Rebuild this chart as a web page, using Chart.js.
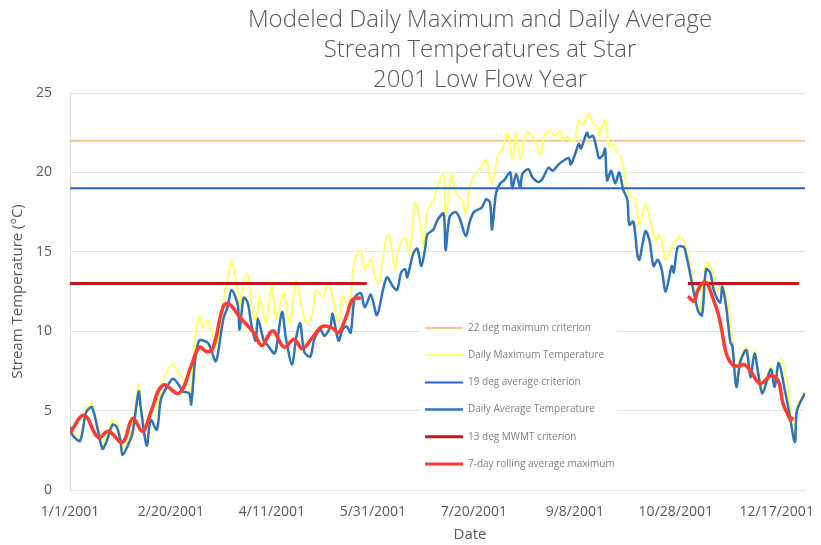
<!DOCTYPE html>
<html>
<head>
<meta charset="utf-8">
<script src="https://cdn.jsdelivr.net/npm/chart.js@4.4.0/dist/chart.umd.min.js"></script>
<style>
  html, body { margin: 0; padding: 0; background: #fff; }
</style>
</head>
<body>
<canvas id="grafico" width="821" height="545"></canvas>
<script>
// dias contados a partir de 1/1/2001
let diasEixo = [0, 50, 100, 150, 200, 250, 300, 350];
let rotulosEixo = ["1/1/2001", "2/20/2001", "4/11/2001", "5/31/2001", "7/20/2001", "9/8/2001", "10/28/2001", "12/17/2001"];

let titulo = ["Modeled Daily Maximum and Daily Average", "Stream Temperatures at Star", "2001 Low Flow Year"];

// criterios (linhas horizontais)
let diasCriterio = [0, 364];
let crit22 = [22, 22];
let crit19 = [19, 19];
let dias13 = [0, 147, 226, 306, 361];
let crit13 = [13, 13, null, 13, 13];

// temperatura media diaria
let diasMedia = [0,1,5,8,11,16,18,21,23,25,26,29,31,34,35,38,40,43,45,48,51,54,56,59,60,62,64,68,70,72,
  73,76,78,80,83,84,86,88,90,92,93,96,98,101,102,105,107,110,112,114,116,119,121,124,126,129,130,133,135,137,
  139,141,144,146,149,152,155,157,160,162,164,166,167,170,172,174,176,177,180,182,185,186,188,191,193,196,198,200,204,206,
  208,209,211,213,215,218,219,221,223,224,227,229,232,234,237,239,242,244,247,248,250,252,253,256,257,259,261,262,264,265,
  266,268,270,272,274,276,277,279,281,282,285,287,289,291,293,295,298,299,301,304,305,307,309,311,313,315,317,319,322,323,
  325,327,328,330,332,335,337,339,341,343,347,349,351,354,356,359,360,364];
let tempMedia = [4.0,3.5,3.1,4.9,5.2,2.6,3.0,4.1,4.0,3.1,2.2,2.9,3.6,6.2,5.2,2.8,4.4,3.8,5.7,6.5,7.0,6.6,6.2,6.1,5.4,8.2,9.4,9.3,8.8,8.1,
  8.4,10.8,11.5,12.6,11.7,10.1,12.1,11.8,10.3,9.4,10.8,9.4,9.1,8.6,8.8,11.2,9.5,7.9,9.6,10.5,8.7,8.4,9.5,10.1,9.7,10.3,11.1,9.4,10.1,10.3,
  9.9,12.1,12.4,11.5,12.3,11.0,12.6,13.4,12.8,12.6,13.7,13.9,13.4,14.9,15.2,14.1,15.3,16.1,16.4,17.0,17.4,15.1,17.2,17.5,17.1,16.0,16.9,17.5,17.8,18.3,
  18.1,16.4,18.7,19.3,19.5,20.0,19.0,19.9,19.0,19.9,20.2,19.7,19.4,19.6,20.3,20.1,20.5,20.7,20.9,20.5,21.1,21.8,21.5,22.5,22.2,22.3,21.4,20.9,21.1,21.5,
  19.5,20.1,19.3,20.0,18.9,18.3,16.7,16.9,14.8,14.5,16.3,15.7,14.1,14.5,13.9,12.5,14.1,13.7,15.3,15.3,14.9,13.7,12.4,11.3,11.0,13.9,13.7,12.5,11.8,12.8,
  11.5,9.3,9.1,6.5,8.1,8.8,7.1,8.6,7.2,6.1,7.6,6.5,8.0,6.3,5.0,3.0,5.0,6.1];

// temperatura maxima diaria
let diasMax = [0,1,5,8,11,16,18,21,23,25,26,29,31,34,35,38,40,43,45,48,51,54,56,59,60,62,64,66,68,70,
  72,73,76,78,80,83,84,86,88,90,92,94,97,100,102,105,106,109,112,115,117,120,122,125,128,130,133,135,138,141,
  144,146,149,151,153,156,158,161,163,166,168,171,173,175,177,180,182,185,186,189,191,194,196,198,200,204,206,209,212,214,
  217,219,221,223,226,229,231,233,235,238,240,243,244,246,248,250,252,254,256,257,259,261,262,265,267,269,271,273,275,277,
  280,282,285,287,290,292,295,298,302,304,307,309,312,315,318,320,323,326,328,330,332,335,337,339,341,343,347,349,352,355,
  356,359,360,364];
let tempMax = [4.1,3.7,3.3,5.1,5.4,2.9,3.3,4.4,4.3,3.4,2.5,3.2,4.0,6.7,5.6,3.1,4.8,5.0,6.4,7.5,7.9,7.3,7.0,6.6,6.0,9.5,10.9,10.2,10.7,10.1,
  9.0,9.3,12.0,13.2,14.4,12.6,11.5,13.2,13.6,11.5,10.7,12.2,10.5,13.0,10.8,12.2,12.4,10.5,13.2,11.4,10.5,11.1,12.6,12.2,13.0,12.2,10.5,12.2,11.5,14.5,
  15.1,13.9,14.5,13.4,13.0,15.5,16.1,13.9,15.3,15.9,14.9,18.1,17.2,15.3,17.6,18.3,19.1,19.9,17.2,19.9,18.7,18.3,17.4,19.1,19.8,20.4,20.8,19.3,21.1,21.5,
  22.5,20.8,22.5,20.8,22.5,22.3,21.8,21.1,22.3,22.6,22.3,22.6,22.0,22.3,22.0,22.0,23.3,23.0,23.6,23.7,23.1,22.9,22.3,23.3,21.6,21.8,21.2,21.0,19.6,18.5,
  18.3,16.7,18.0,17.2,15.7,16.1,14.5,15.3,16.0,15.7,14.3,12.6,11.3,14.3,13.9,12.5,12.9,11.6,9.4,6.7,8.3,9.0,7.3,8.8,7.4,6.3,7.8,6.8,8.3,6.9,
  5.8,3.1,5.2,6.2];

// media movel de 7 dias da maxima (duas partes)
let diasMovel = [0,7,14,19,26,31,36,40,46,54,60,64,68,71,76,79,84,91,95,99,101,106,111,115,120,125,130,133,137,140,144,
  225,306,309,311,314,316,318,321,323,325,328,331,334,337,340,342,346,348,351,353,356,357,358];
let tempMovel = [3.6,4.7,3.3,3.7,3.0,4.5,3.7,4.9,6.6,6.1,7.8,9.0,8.7,9.0,11.6,11.7,10.9,9.9,9.1,9.9,10.0,9.0,9.5,8.9,9.6,10.3,10.2,9.9,11.0,12.0,12.1,
  null,12.2,11.9,12.6,13.1,12.9,12.2,11.1,9.9,8.6,7.9,7.8,7.9,7.5,6.9,6.7,7.1,7.2,6.8,5.5,4.6,4.4,4.6];

let fonte = "'Open Sans', sans-serif";
let corTexto = "#595959";

function pontos(dias, temps) {
  return dias.map((d, i) => ({ x: d, y: temps[i] }));
}

function serie(rotulo, dias, temps, cor, largura, ordem, curva) {
  return {
    label: rotulo,
    data: pontos(dias, temps),
    borderColor: cor,
    backgroundColor: cor,
    borderWidth: largura,
    pointRadius: 0,
    tension: curva,
    fill: false,
    order: ordem
  };
}

// titulo, rotulo "Date" e legenda dentro da area do grafico
let extras = {
  id: "extras",
  afterDatasetsDraw(chart) {
    let ctx = chart.ctx;
    ctx.save();
    ctx.fillStyle = "#ffffff";
    ctx.fillRect(421, 315, 196, 163);
    ctx.textBaseline = "middle";
    ctx.textAlign = "left";
    ctx.font = "10px " + fonte;
    chart.data.datasets.forEach((ds, i) => {
      let y = 328 + i * 27.2;
      ctx.strokeStyle = ds.borderColor;
      ctx.lineWidth = Math.min(ds.borderWidth, 3);
      ctx.beginPath();
      ctx.moveTo(425, y);
      ctx.lineTo(463, y);
      ctx.stroke();
      ctx.fillStyle = "#808080";
      ctx.fillText(ds.label, 468, y);
    });

    ctx.fillStyle = corTexto;
    ctx.textAlign = "center";
    ctx.font = "300 24px " + fonte;
    titulo.forEach((linha, i) => {
      ctx.fillText(linha, 480, 20 + i * 30);
    });
    ctx.font = "15px " + fonte;
    ctx.fillText("Date", 470, 535);
    ctx.restore();
  }
};

let grafico = new Chart(document.getElementById("grafico").getContext("2d"), {
  type: "line",
  data: {
    datasets: [
      serie("22 deg maximum criterion", diasCriterio, crit22, "#f7c68c", 2, 6, 0),
      serie("Daily Maximum Temperature", diasMax, tempMax, "#ffff66", 2, 5, 0.3),
      serie("19 deg average criterion", diasCriterio, crit19, "#2862c8", 2, 4, 0),
      serie("Daily Average Temperature", diasMedia, tempMedia, "#2e74b8", 2.5, 3, 0.3),
      serie("13 deg MWMT criterion", dias13, crit13, "#c0161e", 3, 2, 0),
      serie("7-day rolling average maximum", diasMovel, tempMovel, "#ff3b30", 3.5, 1, 0.4)
    ]
  },
  options: {
    responsive: false,
    animation: false,
    layout: { padding: { top: 93, right: 16, left: 0, bottom: 0 } },
    plugins: {
      legend: { display: false },
      tooltip: { enabled: false },
      title: { display: false }
    },
    scales: {
      x: {
        type: "linear",
        min: 0,
        max: 364,
        afterFit: (s) => {
          s.height = 55;
          // o rotulo 12/17/2001 pode passar um pouco da area
          s.paddingRight = 0;
          s.paddingLeft = 0;
        },
        afterBuildTicks: (s) => { s.ticks = diasEixo.map(v => ({ value: v })); },
        grid: { display: false, drawTicks: false },
        border: { display: true, color: "#e6e6e6" },
        ticks: {
          autoSkip: false,
          maxRotation: 0,
          padding: 14,
          color: corTexto,
          font: { family: fonte, size: 14 },
          callback: (v) => rotulosEixo[diasEixo.indexOf(v)]
        }
      },
      y: {
        min: 0,
        max: 25,
        afterFit: (s) => { s.width = 70; },
        grid: { color: "#e4e4e4", drawTicks: false },
        border: { display: true, color: "#d9d9d9" },
        ticks: {
          stepSize: 5,
          padding: 18,
          color: corTexto,
          font: { family: fonte, size: 14 }
        },
        title: {
          display: true,
          text: "Stream Temperature (°C)",
          color: corTexto,
          font: { family: fonte, size: 15 },
          padding: { top: 9, bottom: 0 }
        }
      }
    }
  },
  plugins: [extras]
});
</script>
</body>
</html>
